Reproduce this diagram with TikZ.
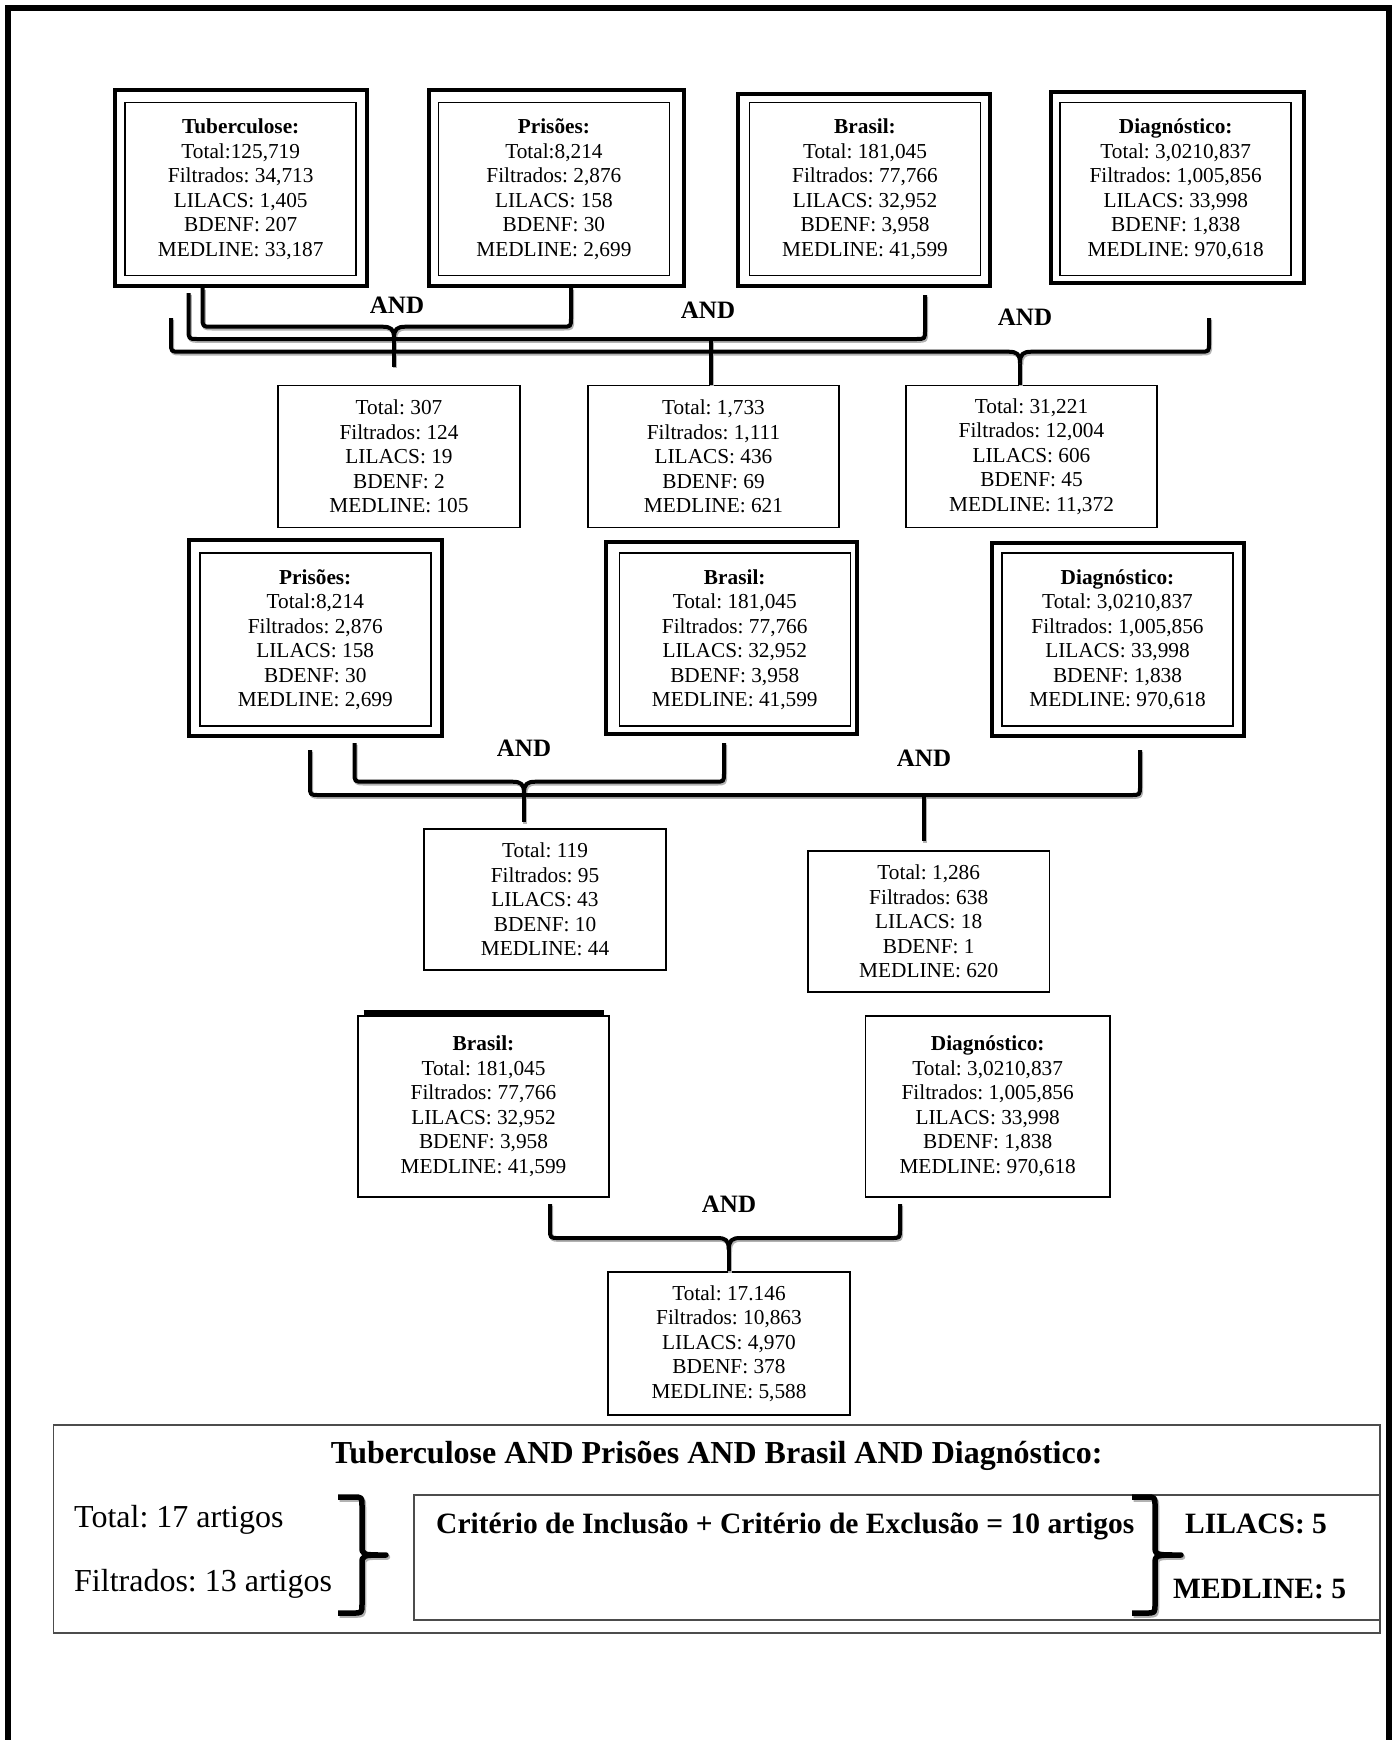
\documentclass[tikz,border=0pt]{standalone}
\usepackage{fontspec}
\setmainfont{Liberation Serif}
\usetikzlibrary{calc}
\frenchspacing
\tikzset{
  bt/.style={align=center, font=\fontsize{21.3}{24.5}\selectfont, inner sep=0pt},
  ibox/.style={bt, draw, line width=1.5pt, minimum width=231pt, minimum height=173pt},
  sbox/.style={bt, draw, line width=1.8pt, minimum height=142pt},
  oframe/.style={line width=4pt},
  andlbl/.style={font=\fontsize{25}{25}\selectfont\bfseries, inner sep=0pt},
  brk/.style={line width=4pt, line join=round},
  brkshadow/.style={brk, draw=black!30, transform canvas={xshift=1.2pt, yshift=-1.8pt}},
  brc/.style={line width=5.5pt, line join=round},
  brcshadow/.style={brc, draw=black!30, transform canvas={xshift=1.5pt, yshift=-2pt}},
  bigtxt/.style={font=\fontsize{32}{36}\selectfont, inner sep=0pt},
  bigbold/.style={font=\fontsize{29.5}{34}\selectfont\bfseries, inner sep=0pt},
  sumframe/.style={draw=black!70, line width=1.6pt, inner sep=0pt},
}
% curly join: xl xr ytl ytr yh xc style
\newcommand\curlyarms[7]{%
  \draw[#7] (#1,#3) -- (#1,#5-9) .. controls (#1,#5) .. (#1+9,#5) -- (#6-12,#5) .. controls (#6-3,#5) and (#6,#5+2) .. (#6,#5+12);
  \draw[#7] (#2,#4) -- (#2,#5-9) .. controls (#2,#5) .. (#2-9,#5) -- (#6+12,#5) .. controls (#6+3,#5) and (#6,#5+2) .. (#6,#5+12);}
% tee join: xl xr ytl ytr yh style
\newcommand\teearms[6]{%
  \draw[#6] (#1,#3) -- (#1,#5-9) .. controls (#1,#5) .. (#1+9,#5) -- (#2-9,#5) .. controls (#2,#5) .. (#2,#5-9) -- (#2,#4);}
\newcommand\oframe[5]{\draw[oframe] ($(#1.north west)+(-#2,-#3)$) rectangle ($(#1.south east)+(#4,#5)$);}
\newcommand\sidebracepath[7]{%
  \draw[#7] (#1,#4) -- (#2-9,#4) .. controls (#2,#4) .. (#2,#4+9) -- (#2,#5-9) .. controls (#2,#5) .. (#3,#5) .. controls (#2,#5) .. (#2,#5+9) -- (#2,#6-9) .. controls (#2,#6) .. (#2-9,#6) -- (#1,#6);}
% all connectors, drawn once per style (shadow first, then black)
\newcommand\allconnectors[1]{%
  \curlyarms{202.6}{571}{288}{288}{326.7}{394}{#1}
  \draw[#1] (cA) -- ($(cA |- r2a.north)+(0,-18)$);
  \teearms{188.6}{925}{293}{295}{339}{#1}
  \draw[#1] (cB) -- (cB |- r2b.north);
  \curlyarms{171}{1209}{318}{318}{351.7}{1020}{#1}
  \draw[#1] (cC) -- (cC |- r2c.north);
  \curlyarms{354.5}{724}{743}{743}{781.7}{524}{#1}
  \draw[#1] (cD) -- ($(cD |- r4a.north)+(0,-6)$);
  \teearms{310}{1140}{750}{750}{795}{#1}
  \draw[#1] (cE) -- ($(cE |- r4b.north)+(0,-9)$);
  \curlyarms{550}{900}{1204}{1204}{1238}{728.8}{#1}
  \draw[#1] (cF) -- (cF |- r6.north);}

\begin{document}
\begin{tikzpicture}[x=1pt, y=-1pt]
\useasboundingbox (0,0) rectangle (1397,1740);
% page frame
\draw[line width=6pt] (8,1740) -- (8,8) -- (1389,8) -- (1389,1740);

% ---------- row 1 ----------
\node[ibox] (tub) at (240.7,189) {\textbf{Tuberculose:}\\Total:125,719\\Filtrados: 34,713\\LILACS: 1,405\\BDENF: 207\\MEDLINE: 33,187};
\node[ibox] (pris) at (553.9,189) {\textbf{Prisões:}\\Total:8,214\\Filtrados: 2,876\\LILACS: 158\\BDENF: 30\\MEDLINE: 2,699};
\node[ibox] (bras) at (865,189) {\textbf{Brasil:}\\Total: 181,045\\Filtrados: 77,766\\LILACS: 32,952\\BDENF: 3,958\\MEDLINE: 41,599};
\node[ibox] (diag) at (1175.7,189) {\textbf{Diagnóstico:}\\Total: 3,0210,837\\Filtrados: 1,005,856\\LILACS: 33,998\\BDENF: 1,838\\MEDLINE: 970,618};
\oframe{tub}{9}{12}{10}{10}
\oframe{pris}{9}{12}{14}{10}
\oframe{bras}{11}{8}{9}{10}
\oframe{diag}{8}{10}{12}{7}

% ---------- row 2 ----------
\node[sbox, minimum width=242pt] (r2a) at (399,456.5) {Total: 307\\Filtrados: 124\\LILACS: 19\\BDENF: 2\\MEDLINE: 105};
\node[sbox, minimum width=251pt] (r2b) at (713.5,456.5) {Total: 1,733\\Filtrados: 1,111\\LILACS: 436\\BDENF: 69\\MEDLINE: 621};
\node[sbox, minimum width=251pt] (r2c) at (1031.5,456.5) {Total: 31,221\\Filtrados: 12,004\\LILACS: 606\\BDENF: 45\\MEDLINE: 11,372};
\node[andlbl] (andA) at (397,305) {AND};
\node[andlbl] (andB) at (708,310) {AND};
\node[andlbl] (andC) at (1025,317) {AND};

% ---------- row 3 ----------
\node[ibox] (pris2) at (315.25,639.7) {\textbf{Prisões:}\\Total:8,214\\Filtrados: 2,876\\LILACS: 158\\BDENF: 30\\MEDLINE: 2,699};
\node[ibox] (bras2) at (734.75,639.7) {\textbf{Brasil:}\\Total: 181,045\\Filtrados: 77,766\\LILACS: 32,952\\BDENF: 3,958\\MEDLINE: 41,599};
\node[ibox] (diag2) at (1117.5,639.7) {\textbf{Diagnóstico:}\\Total: 3,0210,837\\Filtrados: 1,005,856\\LILACS: 33,998\\BDENF: 1,838\\MEDLINE: 970,618};
\oframe{pris2}{10}{12}{10}{9}
\oframe{bras2}{13}{10}{6}{7}
\oframe{diag2}{9}{9}{10}{9}

% ---------- row 4 ----------
\node[sbox, minimum width=242pt, minimum height=141pt] (r4a) at (545,899.5) {Total: 119\\Filtrados: 95\\LILACS: 43\\BDENF: 10\\MEDLINE: 44};
\node[sbox, minimum width=241.5pt, minimum height=141pt] (r4b) at (928.7,921.4) {Total: 1,286\\Filtrados: 638\\LILACS: 18\\BDENF: 1\\MEDLINE: 620};
\node[andlbl] (andD) at (524,748) {AND};
\node[andlbl] (andE) at (924,758) {AND};

% ---------- row 5 ----------
\node[sbox, minimum width=251pt, minimum height=180.7pt] (r5a) at (483.5,1106.3) {\textbf{Brasil:}\\Total: 181,045\\Filtrados: 77,766\\LILACS: 32,952\\BDENF: 3,958\\MEDLINE: 41,599};
\node[sbox, minimum width=244.5pt, minimum height=180.7pt] (r5b) at (987.7,1106.3) {\textbf{Diagnóstico:}\\Total: 3,0210,837\\Filtrados: 1,005,856\\LILACS: 33,998\\BDENF: 1,838\\MEDLINE: 970,618};
\draw[line width=5pt] ($(r5a.north west)+(6.5,-3)$) -- ($(r5a.north east)+(-6,-3)$);

% ---------- row 6 ----------
\node[sbox, minimum width=242pt, minimum height=143pt] (r6) at (729,1343.5) {Total: 17.146\\Filtrados: 10,863\\LILACS: 4,970\\BDENF: 378\\MEDLINE: 5,588};
\node[andlbl] (andF) at (729,1204) {AND};

% ---------- connectors ----------
\coordinate (cA) at (394,338.7);
\coordinate (cB) at (711,339);
\coordinate (cC) at (1020,363.7);
\coordinate (cD) at (524,793.7);
\coordinate (cE) at (924,795);
\coordinate (cF) at (728.8,1250);
\allconnectors{brkshadow}
\allconnectors{brk}

% ---------- summary ----------
\node[sumframe, minimum width=1326.5pt, minimum height=208pt] (sumbox) at (716.75,1529) {};
\node[sumframe, minimum width=966pt, minimum height=125pt] (critbox) at (897,1557.5) {};
\node[font=\fontsize{32}{36}\selectfont\bfseries, inner sep=0pt, anchor=base] (sumtitle) at (716.7,1463) {Tuberculose AND Prisões AND Brasil AND Diagnóstico:};
\node[bigtxt, anchor=base west] (tot17) at (74,1527) {Total: 17 artigos};
\node[bigtxt, anchor=base west] (filt13) at (74,1591) {Filtrados: 13 artigos};
\node[bigbold, anchor=base west] (crit) at (436,1533) {Critério de Inclusão + Critério de Exclusão = 10 artigos};
\node[bigbold, anchor=base west] (lil5) at (1185,1533) {LILACS: 5};
\node[bigbold, anchor=base west] (med5) at (1173,1598) {MEDLINE: 5};
\sidebracepath{338}{362}{386}{1497}{1555}{1613}{brcshadow}
\sidebracepath{1132}{1155}{1181}{1497}{1555}{1613}{brcshadow}
\sidebracepath{338}{362}{386}{1497}{1555}{1613}{brc}
\sidebracepath{1132}{1155}{1181}{1497}{1555}{1613}{brc}
\end{tikzpicture}
\end{document}
